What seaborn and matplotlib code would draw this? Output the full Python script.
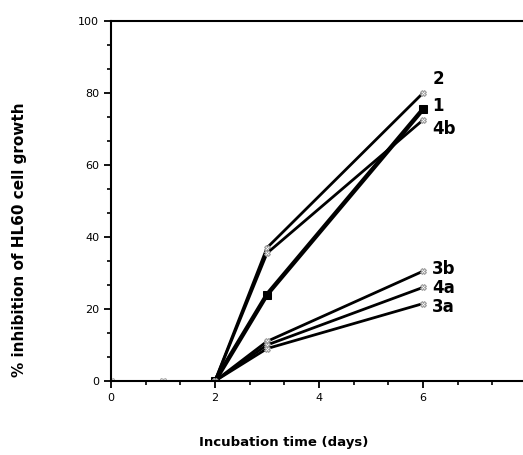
import numpy as np
import pandas as pd
import matplotlib
matplotlib.use("Agg")
import matplotlib.pyplot as plt
import seaborn as sns
from matplotlib.ticker import MultipleLocator

sns.set_style("ticks")
plt.rcParams["font.family"] = ["DejaVu Sans"]
plt.rcParams["text.color"] = "black"
plt.rcParams["xtick.color"] = "black"
plt.rcParams["ytick.color"] = "black"
plt.rcParams["axes.labelcolor"] = "black"

# ------------------------------------------------------------------
# Data
# ------------------------------------------------------------------
days_base = [0, 1, 2]
base_vals = [0, 0, 0]

days = [2, 3, 6]
comp_1 = [0, 24, 75.5]
comp_2 = [0, 37, 80]
comp_4b = [0, 35.5, 72.5]
comp_3b = [0, 11, 30.5]
comp_4a = [0, 10, 26]
comp_3a = [0, 9, 21.5]

labels = ["2", "1", "4b", "3b", "4a", "3a"]
label_y = [84, 76.5, 70, 31, 25.8, 20.6]

series = {
    "1": comp_1,
    "2": comp_2,
    "4b": comp_4b,
    "3b": comp_3b,
    "4a": comp_4a,
    "3a": comp_3a,
}

# ------------------------------------------------------------------
# Figure
# ------------------------------------------------------------------
fig = plt.figure(figsize=(5.23, 4.55), dpi=100)
ax = fig.add_axes([111 / 523, 74 / 455, 416 / 523, 360 / 455])

sns.lineplot(x=days_base, y=base_vals, ax=ax, color="black", lw=2,
             marker="X", markersize=5, markerfacecolor="white",
             markeredgecolor="#aaaaaa")

for name, vals in series.items():
    thick = name == "1"
    sns.lineplot(x=days, y=vals, ax=ax, color="black",
                 lw=3.2 if thick else 2.0,
                 marker="s" if thick else "X",
                 markersize=6 if thick else 4,
                 markerfacecolor="black" if thick else "white",
                 markeredgecolor="black" if thick else "#999999")

for lab, ly in zip(labels, label_y):
    ax.text(6.18, ly, lab, fontsize=12, fontweight="bold", va="center", ha="left")

ax.set_xlim(0, 8)
ax.set_ylim(0, 100)
ax.xaxis.set_minor_locator(MultipleLocator(2 / 3))
ax.yaxis.set_minor_locator(MultipleLocator(20 / 3))
ax.set_xticks([0, 2, 4, 6])
ax.set_yticks([0, 20, 40, 60, 80, 100])
ax.tick_params(which="major", length=5, width=1.3, labelsize=8, direction="out")
ax.tick_params(which="minor", length=3, width=1.2, direction="out")

for s in ["left", "bottom", "top"]:
    ax.spines[s].set_linewidth(1.5)
    ax.spines[s].set_color("black")
ax.spines["right"].set_visible(False)

ax.set_xlabel("Incubation time (days)", fontsize=9.5, fontweight="bold")
ax.set_ylabel("% inhibition of HL60 cell growth", fontsize=11, fontweight="bold")
ax.xaxis.set_label_coords(0.416, -0.172)
ax.yaxis.set_label_coords(-0.219, 0.392)
ax.xaxis.label.set_va("center")
ax.yaxis.label.set_va("center")

fig.savefig("out.png", dpi=100)
